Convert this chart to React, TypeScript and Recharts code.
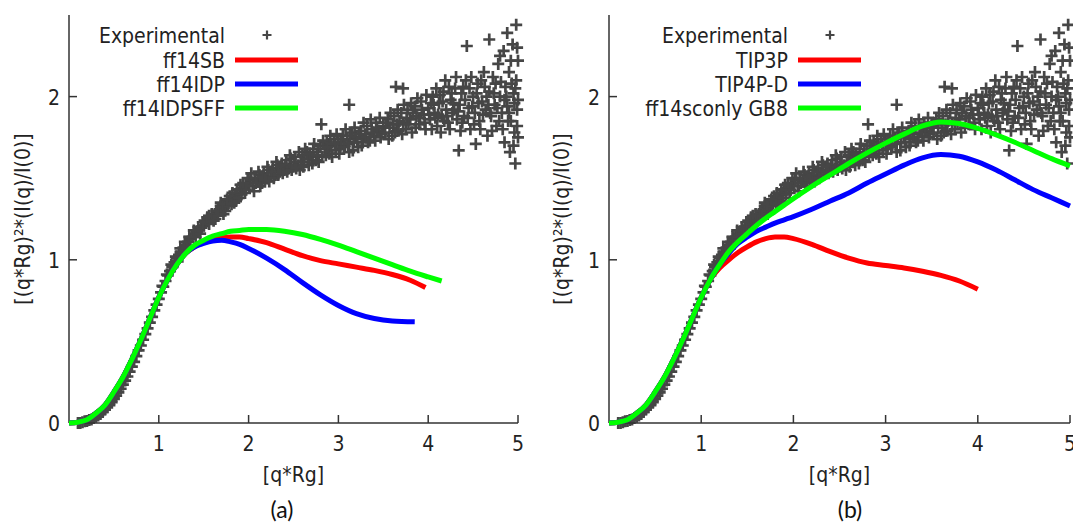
import React from 'react';
import { ComposedChart, Scatter, Line, XAxis, YAxis, Label, Legend } from 'recharts';

type Pt = [number, number];

const FONT = "'DejaVu Sans Condensed', 'DejaVu Sans', sans-serif";
const FS = 21;
const TEXT = '#222';
const AXIS = { stroke: '#333', strokeWidth: 1.5 };

const xTicks = [1, 2, 3, 4, 5];
const xTopTicks = [1, 2, 3, 4];
const yTicks = [0, 1, 2];
const yRightTicks = [1, 2];

const expLow: Pt[] = [
  [0.1, 0.0], [0.125, 0.0], [0.15, 0.005], [0.175, 0.01], [0.2, 0.012], [0.225, 0.018],
  [0.25, 0.022], [0.275, 0.03], [0.3, 0.038], [0.325, 0.046], [0.35, 0.055], [0.375, 0.068],
  [0.4, 0.082], [0.425, 0.096], [0.45, 0.11], [0.475, 0.128], [0.5, 0.148], [0.525, 0.167],
  [0.55, 0.188], [0.575, 0.21], [0.6, 0.235], [0.625, 0.26], [0.65, 0.285], [0.675, 0.315],
  [0.7, 0.345], [0.725, 0.375], [0.75, 0.41], [0.775, 0.445], [0.8, 0.475], [0.825, 0.51],
  [0.85, 0.545], [0.875, 0.58], [0.9, 0.615], [0.925, 0.65], [0.95, 0.69], [0.975, 0.725],
  [1.0, 0.76],
];

const expMid: Pt[] = [
  [1.025, 0.8], [1.05, 0.835], [1.075, 0.87], [1.1, 0.905], [1.125, 0.93], [1.15, 0.955],
  [1.175, 0.985], [1.2, 1.01], [1.225, 1.03], [1.25, 1.05], [1.275, 1.075], [1.3, 1.09],
  [1.325, 1.11], [1.35, 1.13], [1.375, 1.14], [1.4, 1.16], [1.425, 1.175], [1.45, 1.18],
  [1.475, 1.2], [1.5, 1.21], [1.525, 1.225], [1.55, 1.24], [1.575, 1.25], [1.6, 1.26],
  [1.625, 1.28], [1.65, 1.285], [1.675, 1.3], [1.7, 1.32], [1.725, 1.32], [1.75, 1.34],
  [1.775, 1.36], [1.8, 1.37], [1.825, 1.38], [1.85, 1.4], [1.875, 1.4], [1.9, 1.43],
  [1.925, 1.44], [1.95, 1.44], [1.975, 1.47], [2.0, 1.47],
  [1.51, 1.24], [1.56, 1.22], [1.63, 1.25], [1.69, 1.33], [1.74, 1.3], [1.79, 1.39],
  [1.86, 1.36], [1.91, 1.46], [1.96, 1.41], [1.99, 1.5],
  [1.04, 0.84], [1.09, 0.91], [1.14, 0.97], [1.19, 1.02], [1.24, 1.07], [1.29, 1.11],
  [1.34, 1.14], [1.39, 1.18], [1.44, 1.2], [1.49, 1.23], [1.54, 1.26], [1.59, 1.28],
  [1.64, 1.3], [1.69, 1.35], [1.72, 1.28], [1.77, 1.33], [1.82, 1.41], [1.84, 1.35],
  [1.89, 1.38], [1.94, 1.47], [1.97, 1.43], [1.21, 0.99], [1.31, 1.07], [1.41, 1.14],
  [1.46, 1.16], [1.56, 1.27], [1.61, 1.24], [1.66, 1.27], [1.71, 1.34], [1.76, 1.37],
  [1.81, 1.34], [1.87, 1.43], [1.92, 1.4],
];

const expUpper: Pt[] = [
  [2.02, 1.49], [2.05, 1.45], [2.07, 1.5], [2.1, 1.48], [2.12, 1.52], [2.15, 1.47],
  [2.17, 1.53], [2.2, 1.5], [2.22, 1.55], [2.25, 1.51], [2.27, 1.56], [2.3, 1.52],
  [2.32, 1.58], [2.35, 1.54], [2.37, 1.59], [2.4, 1.55], [2.42, 1.61], [2.45, 1.56],
  [2.47, 1.62], [2.5, 1.57], [2.52, 1.63], [2.55, 1.58], [2.57, 1.55], [2.6, 1.64],
  [2.62, 1.6], [2.65, 1.66], [2.67, 1.58], [2.7, 1.63], [2.72, 1.68], [2.75, 1.61],
  [2.77, 1.66], [2.8, 1.7], [2.81, 1.83], [2.82, 1.63], [2.85, 1.68], [2.87, 1.72],
  [2.9, 1.65], [2.92, 1.7], [2.95, 1.74], [2.97, 1.67], [3.0, 1.72], [3.02, 1.68],
  [3.05, 1.76], [3.07, 1.7], [3.1, 1.74], [3.12, 1.95], [3.12, 1.66], [3.15, 1.78],
  [3.17, 1.72], [3.2, 1.75], [3.22, 1.69], [3.25, 1.79], [3.27, 1.74], [3.3, 1.77],
  [3.32, 1.82], [3.35, 1.73], [3.37, 1.8], [3.4, 1.76], [3.42, 1.84], [3.45, 1.79],
  [3.47, 1.75], [3.5, 1.82],
  [2.03, 1.53], [2.06, 1.42], [2.08, 1.47], [2.11, 1.54], [2.13, 1.45], [2.16, 1.51],
  [2.18, 1.49], [2.21, 1.57], [2.23, 1.48], [2.26, 1.54], [2.28, 1.5], [2.31, 1.6],
  [2.33, 1.52], [2.36, 1.57], [2.38, 1.53], [2.41, 1.58], [2.43, 1.54], [2.46, 1.64],
  [2.48, 1.55], [2.51, 1.6], [2.53, 1.56], [2.56, 1.66], [2.58, 1.6], [2.61, 1.57],
  [2.63, 1.68], [2.66, 1.62], [2.68, 1.65], [2.71, 1.59], [2.73, 1.71], [2.76, 1.64],
  [2.78, 1.6], [2.83, 1.73], [2.86, 1.64], [2.88, 1.69], [2.91, 1.76], [2.93, 1.63],
  [2.96, 1.71], [2.98, 1.77], [3.01, 1.65], [3.03, 1.74], [3.06, 1.69], [3.08, 1.8],
  [3.11, 1.71], [3.13, 1.76], [3.16, 1.67], [3.18, 1.81], [3.21, 1.72], [3.23, 1.77],
  [3.26, 1.7], [3.28, 1.84], [3.31, 1.75], [3.33, 1.72], [3.36, 1.86], [3.38, 1.78],
  [3.41, 1.73], [3.43, 1.81], [3.46, 1.87], [3.48, 1.77],
];

const expHigh: Pt[] = [
  [3.52, 1.78], [3.55, 1.86], [3.57, 1.81], [3.6, 1.76], [3.62, 1.88], [3.64, 2.06],
  [3.65, 1.83], [3.67, 1.79], [3.7, 1.9], [3.72, 2.05], [3.72, 1.84], [3.75, 1.8],
  [3.77, 1.92], [3.8, 1.86], [3.82, 1.78], [3.85, 1.94], [3.87, 1.88], [3.9, 1.83],
  [3.92, 1.97], [3.95, 1.89], [3.97, 1.8], [4.0, 1.93], [4.02, 1.86], [4.05, 2.0],
  [4.07, 1.9], [4.1, 1.82], [4.12, 1.96], [4.15, 1.88], [4.17, 2.03], [4.2, 1.92],
  [4.22, 1.84], [4.25, 1.98], [4.27, 1.9], [4.3, 2.05], [4.32, 1.86], [4.34, 1.67],
  [4.35, 1.95], [4.37, 2.02], [4.4, 1.88], [4.42, 2.1], [4.43, 2.31], [4.45, 1.93],
  [4.47, 1.8], [4.5, 2.0], [4.52, 1.9], [4.53, 1.71], [4.55, 2.08], [4.57, 1.85],
  [4.6, 1.97], [4.62, 2.15], [4.64, 1.92], [4.66, 1.76], [4.68, 2.35], [4.68, 2.03],
  [4.7, 1.88], [4.72, 2.12], [4.74, 1.95], [4.76, 1.82], [4.78, 2.2], [4.8, 2.0],
  [4.82, 1.9], [4.84, 2.28], [4.85, 1.72], [4.86, 2.06], [4.88, 2.39], [4.88, 1.94],
  [4.9, 2.15], [4.91, 1.66], [4.92, 1.85], [4.94, 2.32], [4.95, 2.02], [4.96, 1.78],
  [4.97, 1.59], [4.98, 2.44], [4.98, 2.1], [4.99, 1.92], [5.0, 2.22], [5.0, 1.98], [5.0, 1.75],
  [4.03, 1.96], [4.08, 1.87], [4.13, 2.01], [4.18, 1.85], [4.23, 2.06], [4.28, 1.96],
  [4.33, 1.91], [4.38, 1.84], [4.41, 1.98], [4.46, 2.05], [4.51, 1.83], [4.56, 1.96],
  [4.61, 1.89], [4.63, 2.06], [4.67, 1.95], [4.71, 1.79], [4.73, 2.02], [4.77, 1.93],
  [4.81, 2.09], [4.83, 1.8], [4.87, 2.0], [4.89, 1.85], [4.93, 2.08], [4.96, 1.96],
  [3.53, 1.84], [3.56, 1.74], [3.58, 1.9], [3.61, 1.83], [3.63, 1.78], [3.66, 1.92],
  [3.68, 1.85], [3.71, 1.77], [3.73, 1.95], [3.76, 1.87], [3.78, 1.83], [3.81, 1.96],
  [3.83, 1.9], [3.86, 1.81], [3.88, 1.99], [3.91, 1.87], [3.93, 1.92], [3.96, 1.84],
  [3.98, 2.01], [4.01, 1.89], [4.04, 1.8], [4.06, 1.95], [4.09, 2.05], [4.11, 1.89],
  [4.14, 1.78], [4.16, 1.97], [4.19, 2.1], [4.21, 1.88], [4.24, 1.8], [4.26, 2.02],
  [4.29, 1.92], [4.31, 2.12], [4.36, 1.79], [4.39, 2.06], [4.44, 1.87], [4.48, 2.12],
  [4.49, 1.94], [4.54, 2.02], [4.58, 1.8], [4.59, 2.1], [4.65, 2.0], [4.69, 1.9],
  [4.75, 2.08], [4.79, 1.85], [4.8, 2.25], [4.85, 1.98], [4.9, 1.9], [4.92, 2.22],
  [4.95, 1.7], [4.97, 2.05], [4.99, 1.82], [4.99, 2.3],
];

// Panel (a) simulations
const ff14SB: Pt[] = [
  [0, 0], [0.1, 0.005], [0.2, 0.02], [0.3, 0.06], [0.4, 0.11], [0.5, 0.19], [0.6, 0.28],
  [0.7, 0.39], [0.8, 0.51], [0.9, 0.64], [1.0, 0.77], [1.1, 0.88], [1.2, 0.97], [1.3, 1.04],
  [1.4, 1.08], [1.5, 1.105], [1.6, 1.125], [1.7, 1.135], [1.8, 1.14], [1.9, 1.14], [2.0, 1.13],
  [2.2, 1.105], [2.4, 1.065], [2.6, 1.025], [2.8, 0.995], [3.0, 0.975], [3.2, 0.955],
  [3.4, 0.935], [3.6, 0.91], [3.8, 0.875], [3.97, 0.83],
];
const ff14IDP: Pt[] = [
  [0, 0], [0.1, 0.005], [0.2, 0.02], [0.3, 0.06], [0.4, 0.11], [0.5, 0.19], [0.6, 0.28],
  [0.7, 0.39], [0.8, 0.51], [0.9, 0.64], [1.0, 0.77], [1.1, 0.88], [1.2, 0.97], [1.3, 1.04],
  [1.4, 1.08], [1.5, 1.1], [1.6, 1.115], [1.7, 1.12], [1.8, 1.11], [1.9, 1.095], [2.0, 1.07],
  [2.2, 1.01], [2.4, 0.94], [2.6, 0.86], [2.8, 0.785], [3.0, 0.72], [3.2, 0.67], [3.4, 0.64],
  [3.6, 0.625], [3.85, 0.62],
];
const ff14IDPSFF: Pt[] = [
  [0, 0], [0.1, 0.005], [0.2, 0.02], [0.3, 0.06], [0.4, 0.11], [0.5, 0.19], [0.6, 0.28],
  [0.7, 0.39], [0.8, 0.51], [0.9, 0.64], [1.0, 0.77], [1.1, 0.88], [1.2, 0.97], [1.3, 1.04],
  [1.4, 1.09], [1.5, 1.12], [1.6, 1.145], [1.7, 1.16], [1.8, 1.175], [1.9, 1.18], [2.0, 1.185],
  [2.2, 1.185], [2.4, 1.175], [2.6, 1.155], [2.8, 1.125], [3.0, 1.09], [3.2, 1.05], [3.4, 1.01],
  [3.6, 0.97], [3.8, 0.93], [4.0, 0.895], [4.15, 0.87],
];

// Panel (b) simulations
const tip3p: Pt[] = [
  [0, 0], [0.1, 0.005], [0.2, 0.02], [0.3, 0.06], [0.4, 0.11], [0.5, 0.19], [0.6, 0.28],
  [0.7, 0.39], [0.8, 0.51], [0.9, 0.64], [1.0, 0.77], [1.1, 0.88], [1.2, 0.95], [1.3, 1.0],
  [1.4, 1.045], [1.5, 1.08], [1.6, 1.11], [1.7, 1.13], [1.8, 1.14], [1.9, 1.14], [2.0, 1.13],
  [2.2, 1.095], [2.4, 1.05], [2.6, 1.01], [2.8, 0.98], [3.0, 0.965], [3.2, 0.95], [3.4, 0.93],
  [3.6, 0.905], [3.8, 0.87], [4.0, 0.82],
];
const tip4pd: Pt[] = [
  [0, 0], [0.1, 0.005], [0.2, 0.02], [0.3, 0.06], [0.4, 0.11], [0.5, 0.19], [0.6, 0.28],
  [0.7, 0.39], [0.8, 0.51], [0.9, 0.64], [1.0, 0.77], [1.1, 0.88], [1.2, 0.97], [1.3, 1.04],
  [1.4, 1.1], [1.5, 1.14], [1.6, 1.175], [1.7, 1.2], [1.8, 1.225], [1.9, 1.245], [2.0, 1.265],
  [2.2, 1.31], [2.4, 1.36], [2.6, 1.41], [2.8, 1.47], [3.0, 1.525], [3.2, 1.58], [3.4, 1.625],
  [3.6, 1.645], [3.8, 1.635], [4.0, 1.6], [4.2, 1.55], [4.4, 1.49], [4.6, 1.43], [4.8, 1.38],
  [5.0, 1.33],
];
const gb8: Pt[] = [
  [0, 0], [0.1, 0.005], [0.2, 0.02], [0.3, 0.06], [0.4, 0.11], [0.5, 0.19], [0.6, 0.28],
  [0.7, 0.39], [0.8, 0.51], [0.9, 0.64], [1.0, 0.77], [1.1, 0.88], [1.2, 0.97], [1.3, 1.05],
  [1.4, 1.11], [1.5, 1.16], [1.6, 1.21], [1.7, 1.255], [1.8, 1.295], [1.9, 1.335], [2.0, 1.375],
  [2.2, 1.45], [2.4, 1.52], [2.6, 1.59], [2.8, 1.655], [3.0, 1.715], [3.2, 1.77], [3.4, 1.82],
  [3.6, 1.845], [3.8, 1.835], [4.0, 1.805], [4.2, 1.765], [4.4, 1.72], [4.6, 1.67], [4.8, 1.62],
  [5.0, 1.575],
];

const toRows = (pts: Pt[]) => pts.map(([x, y]) => ({ x, y }));

const experimental = toRows([...expLow, ...expMid, ...expUpper, ...expHigh]);

interface Series {
  name: string;
  color: string;
  data: Pt[];
}

const seriesA: Series[] = [
  { name: 'ff14SB', color: '#ff0000', data: ff14SB },
  { name: 'ff14IDP', color: '#0000ff', data: ff14IDP },
  { name: 'ff14IDPSFF', color: '#00ff00', data: ff14IDPSFF },
];

const seriesB: Series[] = [
  { name: 'TIP3P', color: '#ff0000', data: tip3p },
  { name: 'TIP4P-D', color: '#0000ff', data: tip4pd },
  { name: 'ff14sconly GB8', color: '#00ff00', data: gb8 },
];

const PLUS_COLOR = '#464646';

function plusPath(cx: number, cy: number, arm: number) {
  const h = arm / 2;
  return `M${cx - h},${cy}h${arm}M${cx},${cy - h}v${arm}`;
}

const PlusShape = (props: any) => {
  const { cx, cy } = props;
  if (cx == null || cy == null) return <g />;
  return <path d={plusPath(cx, cy, 12)} stroke={PLUS_COLOR} strokeWidth={2.7} fill="none" />;
};

const BottomTick = ({ x, y, payload }: any) => (
  <g>
    <line x1={x} y1={y} x2={x} y2={y - 8} stroke="#333" strokeWidth={1.5} />
    <text x={x} y={y + 28} textAnchor="middle" fill={TEXT} fontSize={FS} fontFamily={FONT}>
      {payload.value}
    </text>
  </g>
);

const TopTick = ({ x, y }: any) => (
  <line x1={x} y1={y} x2={x} y2={y + 8} stroke="#333" strokeWidth={1.5} />
);

const LeftTick = ({ x, y, payload }: any) => (
  <g>
    {payload.value !== 0 && <line x1={x} y1={y} x2={x + 8} y2={y} stroke="#333" strokeWidth={1.5} />}
    <text x={x - 9} y={y + 8} textAnchor="end" fill={TEXT} fontSize={FS} fontFamily={FONT}>
      {payload.value}
    </text>
  </g>
);

const RightTick = ({ x, y }: any) => (
  <line x1={x} y1={y} x2={x - 8} y2={y} stroke="#333" strokeWidth={1.5} />
);

interface PanelProps {
  left: number;
  width: number;
  plotLeft: number;
  plotRight: number;
  yLabelX: number;
  textRight: number;
  series: Series[];
}

const ROWS = [35, 60, 84, 108];

function Panel({ left, width, plotLeft, plotRight, yLabelX, textRight, series }: PanelProps) {
  const height = 490;
  const renderLegend = () => (
    <svg width={width} height={130} style={{ display: 'block' }}>
      <text x={textRight} y={ROWS[0] + 8} textAnchor="end" fill={TEXT} fontSize={FS} fontFamily={FONT}>
        Experimental
      </text>
      <path d={plusPath(textRight + 42, ROWS[0], 9)} stroke={PLUS_COLOR} strokeWidth={2.2} fill="none" />
      {series.map((s, i) => (
        <g key={s.name}>
          <text x={textRight} y={ROWS[i + 1] + 8} textAnchor="end" fill={TEXT} fontSize={FS} fontFamily={FONT}>
            {s.name}
          </text>
          <line x1={textRight + 10} y1={ROWS[i + 1]} x2={textRight + 73} y2={ROWS[i + 1]} stroke={s.color} strokeWidth={5} />
        </g>
      ))}
    </svg>
  );

  return (
    <div style={{ position: 'absolute', left, top: 0 }}>
      <ComposedChart
        width={width}
        height={height}
        margin={{ top: 15, right: width - plotRight, bottom: 0, left: 0 }}
      >
        <XAxis
          type="number"
          dataKey="x"
          domain={[0, 5]}
          ticks={xTicks}
          interval={0}
          height={67}
          tickSize={0}
          tickMargin={0}
          tickLine={false}
          axisLine={AXIS}
          tick={BottomTick}
        >
          <Label value="[q*Rg]" position="insideBottom" offset={8} fill={TEXT} fontSize={FS} fontFamily={FONT} />
        </XAxis>
        <XAxis
          xAxisId="top"
          orientation="top"
          type="number"
          domain={[0, 5]}
          ticks={xTopTicks}
          interval={0}
          height={0}
          tickSize={0}
          tickMargin={0}
          tickLine={false}
          axisLine={AXIS}
          tick={TopTick}
        />
        <YAxis
          type="number"
          dataKey="y"
          domain={[0, 2.5]}
          ticks={yTicks}
          interval={0}
          width={plotLeft}
          tickSize={0}
          tickMargin={0}
          tickLine={false}
          axisLine={AXIS}
          tick={LeftTick}
        >
          <Label
            value="[(q*Rg)²*(I(q)/I(0)]"
            angle={-90}
            position="insideLeft"
            offset={yLabelX}
            fill={TEXT}
            fontSize={FS}
            fontFamily={FONT}
            style={{ textAnchor: 'middle' }}
          />
        </YAxis>
        <YAxis
          yAxisId="r"
          orientation="right"
          type="number"
          domain={[0, 2.5]}
          ticks={yRightTicks}
          interval={0}
          width={0}
          tickSize={0}
          tickMargin={0}
          tickLine={false}
          axisLine={AXIS}
          tick={RightTick}
        />
        <Legend
          layout="vertical"
          align="center"
          verticalAlign="middle"
          wrapperStyle={{ left: 0, top: 0, width, height: 130, pointerEvents: 'none' }}
          content={renderLegend}
        />
        <Scatter
          name="Experimental"
          data={experimental}
          dataKey="y"
          shape={PlusShape}
          zIndex={300}
          isAnimationActive={false}
        />
        {series.map((s, i) => (
          <Line
            key={s.name}
            name={s.name}
            data={toRows(s.data)}
            dataKey="y"
            type="monotone"
            stroke={s.color}
            strokeWidth={5}
            dot={false}
            activeDot={false}
            zIndex={700 + i}
            isAnimationActive={false}
          />
        ))}
      </ComposedChart>
    </div>
  );
}

const captionStyle: React.CSSProperties = {
  position: 'absolute',
  top: 496,
  width: 100,
  textAlign: 'center',
  fontFamily: "Lato, 'Open Sans', sans-serif",
  fontSize: 23,
  lineHeight: '26px',
  color: '#111',
};

export default function App() {
  return (
    <div style={{ position: 'absolute', left: 0, top: 0, width: 1073, height: 524, background: '#fff', overflow: 'hidden' }}>
      <Panel left={0} width={535} plotLeft={69} plotRight={518} yLabelX={23} textRight={225} series={seriesA} />
      <Panel left={530} width={543} plotLeft={79} plotRight={540} yLabelX={32} textRight={258} series={seriesB} />
      <div style={{ ...captionStyle, left: 232 }}>(a)</div>
      <div style={{ ...captionStyle, left: 800 }}>(b)</div>
    </div>
  );
}
